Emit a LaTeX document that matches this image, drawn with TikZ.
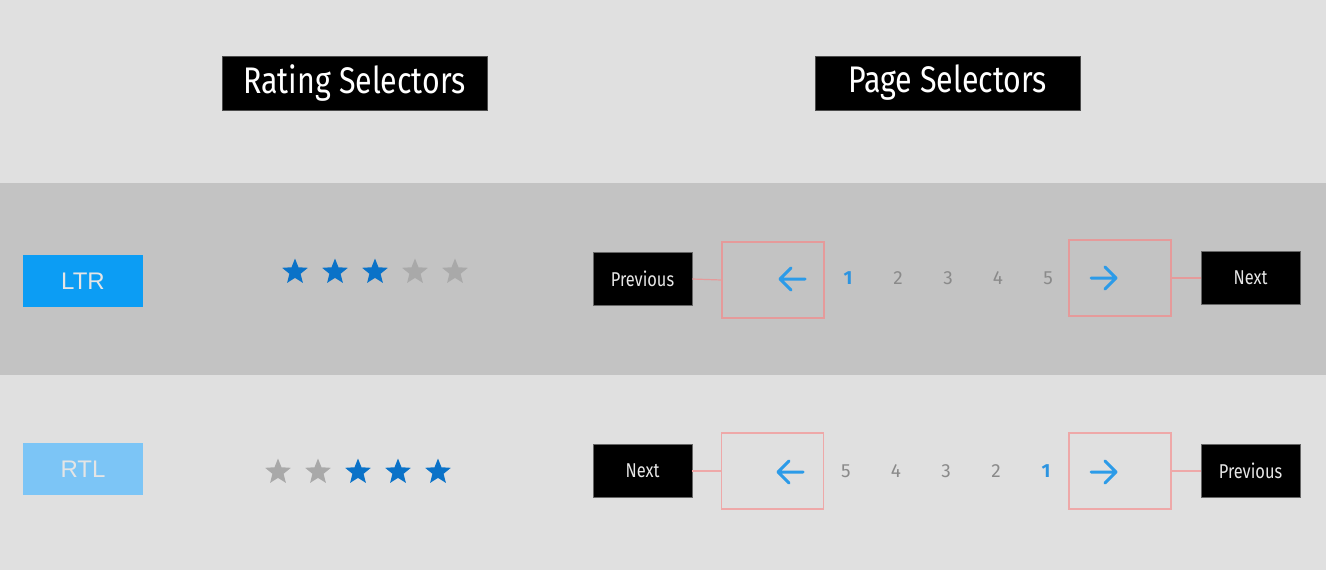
\documentclass[tikz,border=0pt]{standalone}
\usepackage{fontspec}
\setmainfont{Fira Sans}
\newfontfamily\condfont{Fira Sans}[FakeStretch=0.82]
\newfontfamily\arialfont{Liberation Sans}
\usetikzlibrary{shapes.geometric}
\definecolor{bglight}{HTML}{E0E0E0}
\definecolor{bgband}{HTML}{C3C3C3}
\definecolor{ltrblue}{HTML}{0C9DF4}
\definecolor{rtlblue}{HTML}{7CC5F6}
\definecolor{starblue}{HTML}{0A72C8}
\definecolor{stargray}{HTML}{A9A9A9}
\definecolor{pinkline}{HTML}{E59A9A}
\definecolor{pinklight}{HTML}{EEA8A8}
\definecolor{arrowblue}{HTML}{2C9BE8}
\definecolor{numgray}{HTML}{8A8A8A}
\definecolor{numblue}{HTML}{2C94E0}
\definecolor{btntext}{HTML}{E6E6E6}
\tikzset{
  x=1pt, y=-1pt,
  titlebox/.style={fill=black, draw=black!70, line width=1pt, text=white, minimum width=265pt, minimum height=54pt, inner sep=0pt, font=\condfont\fontsize{37}{40}\selectfont},
  dirbox/.style={minimum width=120pt, minimum height=52pt, inner sep=0pt, text=white!90!black, font=\arialfont\fontsize{24}{26}\selectfont},
  starbase/.style={star, star points=5, star point ratio=2.3, minimum size=27pt, inner sep=0pt},
  bluestar/.style={starbase, fill=starblue},
  graystar/.style={starbase, fill=stargray},
  btn/.style={fill=black, draw=black!60, line width=0.8pt, text=btntext, minimum width=99pt, minimum height=53pt, inner sep=0pt, font=\condfont\fontsize{20}{22}\selectfont},
  pinkbox/.style={draw=pinkline, line width=1.2pt, minimum width=102pt, minimum height=76pt, inner sep=0pt},
  link/.style={draw=pinkline, line width=1.2pt},
  navarrow/.style={draw=arrowblue, line width=3pt, line cap=round, line join=round},
  num/.style={text=numgray, font=\fontsize{19}{20}\selectfont, inner sep=0pt},
  numsel/.style={text=numblue, font=\bfseries\fontsize{19}{20}\selectfont, inner sep=0pt},
}
\begin{document}
\begin{tikzpicture}
\useasboundingbox (0,0) rectangle (1326,570);
\fill[bglight] (0,0) rectangle (1326,570);
\fill[bgband] (0,183) rectangle (1326,375);

% titles
\node[titlebox] (t1) at (354.5,83) {Rating Selectors};
\node[titlebox] (t2) at (947.5,83) {Page Selectors};

% direction boxes
\node[dirbox, fill=ltrblue] (ltr) at (83,281) {LTR};
\node[dirbox, fill=rtlblue] (rtl) at (83,469) {RTL};

% stars LTR
\node[bluestar] (s11) at (295,272) {};
\node[bluestar] (s12) at (335,272) {};
\node[bluestar] (s13) at (375,272) {};
\node[graystar] (s14) at (415,272) {};
\node[graystar] (s15) at (455,272) {};
% stars RTL
\node[graystar] (s21) at (278,472) {};
\node[graystar] (s22) at (318,472) {};
\node[bluestar] (s23) at (358,472) {};
\node[bluestar] (s24) at (398,472) {};
\node[bluestar] (s25) at (438,472) {};

% LTR page selector
\node[btn] (p1) at (642.5,279) {Previous};
\node[pinkbox] (lb1) at (773,280) {};
\node[pinkbox] (rb1) at (1120,278) {};
\node[btn] (n1) at (1250.5,278) {Next};
\draw[link] (p1.east) -- (lb1.west);
\draw[link] (rb1.east) -- (n1.west);
\draw[navarrow] (805,279) -- (780,279) (791,268) -- (780,279) -- (791,290);
\draw[navarrow] (1091,278) -- (1116,278) (1105,267) -- (1116,278) -- (1105,289);
\node[numsel] (a1) at (848,278) {1};
\node[num] (a2) at (898,278) {2};
\node[num] (a3) at (948,278) {3};
\node[num] (a4) at (998,278) {4};
\node[num] (a5) at (1048,278) {5};

% RTL page selector
\node[btn] (n2) at (642.5,471) {Next};
\node[pinkbox, draw=pinklight] (lb2) at (772.5,471) {};
\node[pinkbox, draw=pinklight] (rb2) at (1120,471) {};
\node[btn] (p2) at (1250.5,471) {Previous};
\draw[link, draw=pinklight] (n2.east) -- (lb2.west);
\draw[link, draw=pinklight] (rb2.east) -- (p2.west);
\draw[navarrow] (803,472) -- (778,472) (789,461) -- (778,472) -- (789,483);
\draw[navarrow] (1091,472) -- (1116,472) (1105,461) -- (1116,472) -- (1105,483);
\node[num] (b5) at (846,471) {5};
\node[num] (b4) at (896,471) {4};
\node[num] (b3) at (946,471) {3};
\node[num] (b2) at (996,471) {2};
\node[numsel] (b1) at (1046,471) {1};
\end{tikzpicture}
\end{document}
